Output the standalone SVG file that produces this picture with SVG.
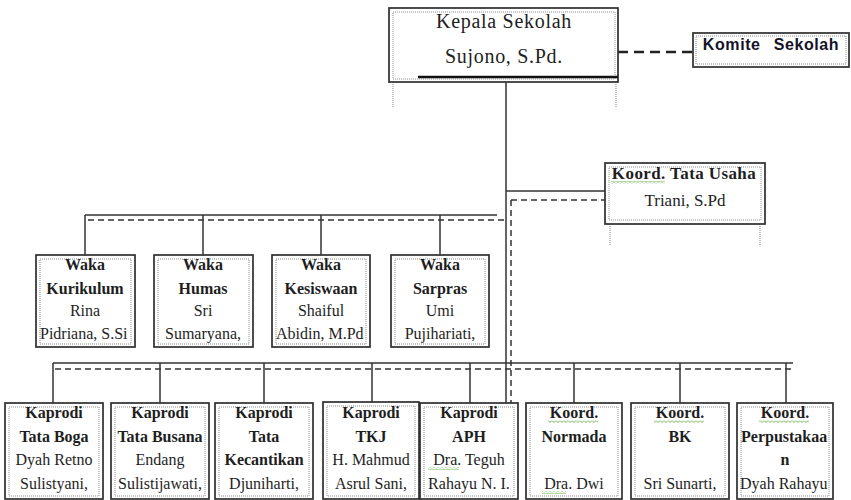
<svg xmlns="http://www.w3.org/2000/svg" width="851" height="500" viewBox="0 0 851 500">
<style>
.ob{fill:#fff;stroke:#2e2e2e;stroke-width:1.7}
.ib{fill:none;stroke:#8a8a8a;stroke-width:1;stroke-dasharray:1 1}
.ln{stroke:#333;stroke-width:1.5;fill:none}
.da{stroke:#333;stroke-width:1.5;fill:none;stroke-dasharray:6 4}
.dt{stroke:#999;stroke-width:1.2;fill:none;stroke-dasharray:1 1}
text{font-family:"Liberation Serif","Times New Roman",serif;fill:#1e1e1e;font-size:16px;text-anchor:middle}
.b{font-weight:bold}
.sq{fill:url(#sqp)}
</style>
<defs>
<pattern id="sqp" patternUnits="userSpaceOnUse" width="4" height="3">
<path d="M0 0.5 L2 2.5 L4 0.5" stroke="#5cab3c" stroke-width="0.9" fill="none"/>
</pattern>
<clipPath id="c1"><rect x="38" y="257" width="94" height="88"/></clipPath>
<clipPath id="c3"><rect x="274" y="257" width="93" height="88"/></clipPath>
<clipPath id="c8"><rect x="739" y="405" width="92" height="93"/></clipPath>
</defs>

<g id="connectors">
<line class="ln" x1="506" y1="82" x2="506" y2="403"/>
<line x1="618" y1="52" x2="693" y2="52" stroke="#222" stroke-width="2.6" stroke-dasharray="10 6"/>
<line class="ln" x1="506" y1="191" x2="605" y2="191"/>
<line class="da" x1="511" y1="200" x2="605" y2="200"/>
<line class="da" x1="511" y1="200" x2="511" y2="403"/>
<line class="ln" x1="85" y1="215" x2="497" y2="215"/>
<line class="da" x1="88" y1="220" x2="506" y2="220"/>
<line class="ln" x1="85" y1="215" x2="85" y2="255"/>
<line class="ln" x1="203" y1="215" x2="203" y2="255"/>
<line class="ln" x1="321" y1="215" x2="321" y2="255"/>
<line class="ln" x1="440" y1="215" x2="440" y2="255"/>
<line class="ln" x1="53" y1="363" x2="793" y2="363"/>
<line class="da" x1="55" y1="369" x2="793" y2="369"/>
<line class="ln" x1="53" y1="363" x2="53" y2="403"/>
<line class="ln" x1="160" y1="363" x2="160" y2="403"/>
<line class="ln" x1="264" y1="363" x2="264" y2="403"/>
<line class="ln" x1="372" y1="363" x2="372" y2="403"/>
<line class="ln" x1="470" y1="363" x2="470" y2="403"/>
<line class="ln" x1="574" y1="363" x2="574" y2="403"/>
<line class="ln" x1="680" y1="363" x2="680" y2="403"/>
<line class="ln" x1="786" y1="363" x2="786" y2="403"/>
<line class="dt" x1="393" y1="82" x2="393" y2="107"/>
<line class="dt" x1="616" y1="82" x2="616" y2="107"/>
<line class="dt" x1="610" y1="224" x2="610" y2="246"/>
<line class="dt" x1="760" y1="224" x2="760" y2="246"/>
</g>

<g id="kepala">
<rect class="ob" x="389" y="8" width="229" height="74"/>
<rect class="ib" x="393" y="12" width="222" height="67"/>
<line x1="418" y1="77" x2="618" y2="77" stroke="#111" stroke-width="2.6"/>
<text x="504" y="28" style="font-size:20px;letter-spacing:0.7px">Kepala Sekolah</text>
<text x="504" y="63" style="font-size:20px;letter-spacing:0.7px">Sujono, S.Pd.</text>
</g>

<g id="komite">
<rect class="ob" x="693" y="33" width="156" height="34"/>
<rect class="ib" x="696" y="36" width="150" height="28"/>
<text x="771" y="50" style="font-family:'Liberation Sans',Arial,sans-serif;font-weight:bold;font-size:16px;letter-spacing:0.6px;word-spacing:8px;fill:#141428">Komite Sekolah</text>
</g>

<g id="tata-usaha">
<rect class="ob" x="605" y="163" width="160" height="61"/>
<rect class="ib" x="609" y="167" width="152" height="53"/>
<text class="b" x="684" y="179" style="font-size:17px;letter-spacing:0.4px">Koord. Tata Usaha</text>
<rect class="sq" x="611" y="181" width="54" height="3"/>
<text x="685" y="206" style="font-size:17px">Triani, S.Pd</text>
</g>

<g id="waka-kurikulum">
<rect class="ob" x="36" y="255" width="99" height="92"/>
<rect class="ib" x="40" y="259" width="91" height="85"/>
<text class="b" x="85" y="270">Waka</text>
<text class="b" x="85" y="294">Kurikulum</text>
<text x="85" y="316">Rina</text>
<text x="40" y="339" clip-path="url(#c1)" style="text-anchor:start">Pidriana, S.Si</text>
</g>

<g id="waka-humas">
<rect class="ob" x="154" y="255" width="99" height="92"/>
<rect class="ib" x="158" y="259" width="91" height="85"/>
<text class="b" x="203" y="270">Waka</text>
<text class="b" x="203" y="294">Humas</text>
<text x="203" y="316">Sri</text>
<text x="203" y="339">Sumaryana,</text>
</g>

<g id="waka-kesiswaan">
<rect class="ob" x="272" y="255" width="98" height="92"/>
<rect class="ib" x="276" y="259" width="90" height="85"/>
<text class="b" x="321" y="270">Waka</text>
<text class="b" x="321" y="294">Kesiswaan</text>
<text x="321" y="316">Shaiful</text>
<text x="276" y="339" clip-path="url(#c3)" style="text-anchor:start">Abidin, M.Pd</text>
</g>

<g id="waka-sarpras">
<rect class="ob" x="391" y="255" width="98" height="92"/>
<rect class="ib" x="395" y="259" width="90" height="85"/>
<text class="b" x="440" y="270">Waka</text>
<text class="b" x="440" y="294">Sarpras</text>
<text x="440" y="316">Umi</text>
<text x="440" y="339">Pujihariati,</text>
</g>

<g id="kaprodi-tata-boga">
<rect class="ob" x="5" y="403" width="98" height="96"/>
<rect class="ib" x="9" y="407" width="90" height="89"/>
<text class="b" x="54" y="418">Kaprodi</text>
<text class="b" x="54" y="442">Tata Boga</text>
<text x="54" y="465">Dyah Retno</text>
<text x="54" y="489">Sulistyani,</text>
</g>

<g id="kaprodi-tata-busana">
<rect class="ob" x="111" y="403" width="98" height="96"/>
<rect class="ib" x="115" y="407" width="90" height="89"/>
<text class="b" x="160" y="418">Kaprodi</text>
<text class="b" x="160" y="442">Tata Busana</text>
<text x="160" y="465">Endang</text>
<text x="160" y="489">Sulistijawati,</text>
</g>

<g id="kaprodi-tata-kecantikan">
<rect class="ob" x="215" y="403" width="98" height="96"/>
<rect class="ib" x="219" y="407" width="90" height="89"/>
<text class="b" x="264" y="418">Kaprodi</text>
<text class="b" x="264" y="442">Tata</text>
<text class="b" x="264" y="465">Kecantikan</text>
<text x="264" y="489">Djuniharti,</text>
</g>

<g id="kaprodi-tkj">
<rect class="ob" x="323" y="402" width="96" height="97"/>
<rect class="ib" x="327" y="406" width="88" height="90"/>
<text class="b" x="371" y="418">Kaprodi</text>
<text class="b" x="371" y="442">TKJ</text>
<text x="371" y="465">H. Mahmud</text>
<text x="371" y="489">Asrul Sani,</text>
</g>

<g id="kaprodi-aph">
<rect class="ob" x="420" y="403" width="98" height="96"/>
<rect class="ib" x="424" y="407" width="90" height="89"/>
<text class="b" x="469" y="418">Kaprodi</text>
<text class="b" x="469" y="442">APH</text>
<text x="469" y="465">Dra. Teguh</text>
<rect class="sq" x="428" y="467" width="31" height="3"/>
<text x="469" y="489">Rahayu N. I.</text>
</g>

<g id="koord-normada">
<rect class="ob" x="526" y="403" width="96" height="96"/>
<rect class="ib" x="530" y="407" width="88" height="89"/>
<text class="b" x="574" y="418">Koord.</text>
<rect class="sq" x="548" y="420" width="50" height="3"/>
<text class="b" x="574" y="442">Normada</text>
<text x="574" y="489">Dra. Dwi</text>
<rect class="sq" x="542" y="491" width="24" height="3"/>
</g>

<g id="koord-bk">
<rect class="ob" x="631" y="403" width="98" height="96"/>
<rect class="ib" x="635" y="407" width="90" height="89"/>
<text class="b" x="680" y="418">Koord.</text>
<rect class="sq" x="654" y="420" width="50" height="3"/>
<text class="b" x="680" y="442">BK</text>
<text x="680" y="489">Sri Sunarti,</text>
</g>

<g id="koord-perpustakaan">
<rect class="ob" x="737" y="403" width="96" height="96"/>
<rect class="ib" x="741" y="407" width="88" height="89"/>
<text class="b" x="785" y="418">Koord.</text>
<rect class="sq" x="759" y="420" width="50" height="3"/>
<text class="b" x="741" y="442" clip-path="url(#c8)" style="text-anchor:start">Perpustakaa</text>
<text class="b" x="785" y="465">n</text>
<text x="740" y="489" clip-path="url(#c8)" style="text-anchor:start">Dyah Rahayu</text>
</g>
</svg>
